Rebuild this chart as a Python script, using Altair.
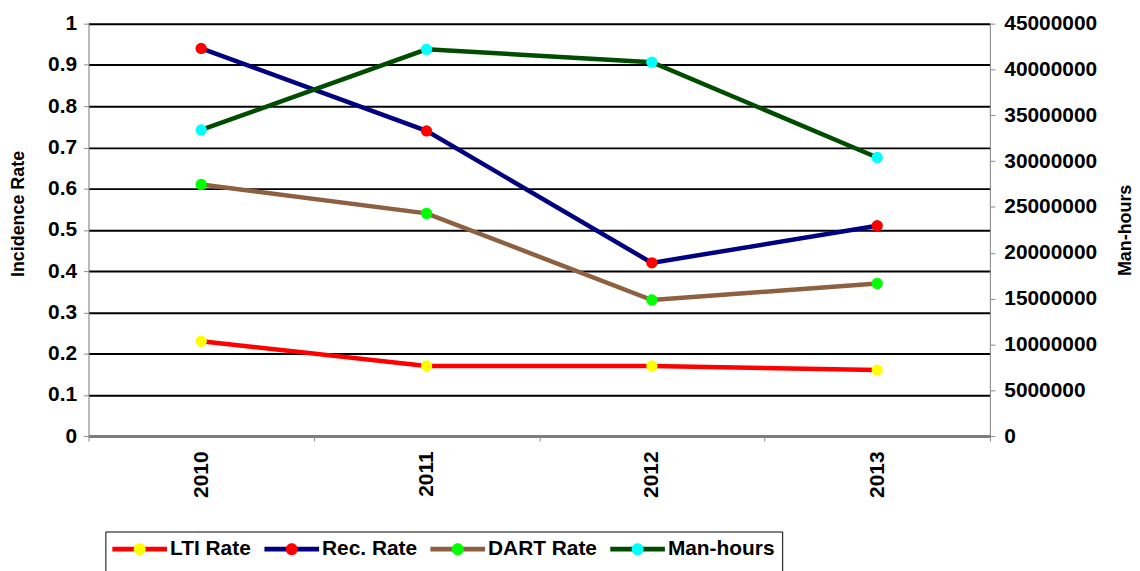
import altair as alt
import pandas as pd

years = ["2010", "2011", "2012", "2013"]
series_names = ["LTI Rate", "Rec. Rate", "DART Rate", "Man-hours"]
lti_rate = [0.23, 0.17, 0.17, 0.16]
rec_rate = [0.94, 0.74, 0.42, 0.51]
dart_rate = [0.61, 0.54, 0.33, 0.37]
man_hours = [33400000, 42200000, 40800000, 30400000]
rate_ticks = [0, 0.1, 0.2, 0.3, 0.4, 0.5, 0.6, 0.7, 0.8, 0.9, 1]
hours_ticks = [0, 5000000, 10000000, 15000000, 20000000, 25000000,
               30000000, 35000000, 40000000, 45000000]
line_colors = ["#FF0000", "#000080", "#8C6040", "#004D00"]
marker_colors = ["#FFFF00", "#FF0000", "#00FF00", "#00FFFF"]

rows = []
for name, vals in zip(series_names[:3], [lti_rate, rec_rate, dart_rate]):
    for yr, v in zip(years, vals):
        rows.append({"year": yr, "series": name, "marker": name, "value": v})
rates = pd.DataFrame(rows)
hours = pd.DataFrame({"year": years, "series": "Man-hours",
                      "marker": "Man-hours", "value": man_hours})

FONT = "Liberation Sans"
# legend glyphs: a line segment, and a dot whose bounds span the same segment
LINE_PATH = "M-1.4,0H5.933"
DOT_PATH = "M-1.4,0M5.933,0M1.467,0A0.8,0.8 0 1,0 3.067,0A0.8,0.8 0 1,0 1.467,0Z"

x_enc = alt.X(
    "year:N", sort=years,
    scale=alt.Scale(type="band", paddingInner=0, paddingOuter=0),
    axis=alt.Axis(title=None, labelAngle=270, tickBand="extent",
                  labelPadding=10, labelFontSize=21, labelFont=FONT,
                  labelFontWeight="bold", labelColor="black"),
)

color_enc = alt.Color(
    "series:N", sort=series_names, title=" ",
    scale=alt.Scale(range=line_colors),
    legend=alt.Legend(orient="none", legendX=17, legendY=511,
                      direction="horizontal", symbolType=LINE_PATH,
                      symbolSize=225, symbolStrokeWidth=5,
                      symbolFillColor="transparent",
                      labelFont=FONT, labelFontSize=21, labelFontWeight="bold",
                      labelColor="black", labelOffset=37, columnPadding=3,
                      titleOrient="bottom", titleFontSize=20, titlePadding=10,
                      padding=7, strokeColor="black", fillColor="white",
                      zindex=1),
)
fill_enc = alt.Fill(
    "marker:N", sort=series_names, title=None,
    scale=alt.Scale(range=marker_colors),
    legend=alt.Legend(orient="none", legendX=17, legendY=511,
                      direction="horizontal", symbolType=DOT_PATH,
                      symbolSize=225, symbolStrokeWidth=5,
                      symbolStrokeColor="transparent", symbolOpacity=1,
                      labelFont=FONT, labelFontSize=21, labelFontWeight="bold",
                      labelColor="transparent", labelOffset=37, columnPadding=3,
                      padding=7, zindex=2),
)

left_axis = alt.Axis(
    values=rate_ticks, format="~g", orient="left", grid=True,
    gridColor="black", gridWidth=2, title="Incidence Rate",
    titleFont=FONT, titleFontSize=18, titleFontWeight="bold",
    titleColor="black", titlePadding=20, titleY=191,
    labelFont=FONT, labelFontSize=21, labelFontWeight="bold",
    labelColor="black", labelPadding=7,
)
right_axis = alt.Axis(
    values=hours_ticks, format="d", orient="right", grid=False,
    title="Man-hours", titleAngle=270, titleBaseline="top",
    titleFont=FONT, titleFontSize=18, titleFontWeight="bold",
    titleColor="black", titlePadding=20,
    labelFont=FONT, labelFontSize=21, labelFontWeight="bold",
    labelColor="black", labelPadding=9,
)

rate_scale = alt.Scale(domain=[0, 1], nice=False, zero=True)
hours_scale = alt.Scale(domain=[0, 45000000], nice=False, zero=True)

rate_lines = alt.Chart(rates).mark_line(strokeWidth=4.5).encode(
    x=x_enc,
    y=alt.Y("value:Q", scale=rate_scale, axis=left_axis),
    color=color_enc,
)
hours_line = alt.Chart(hours).mark_line(strokeWidth=4.5).encode(
    x=x_enc,
    y=alt.Y("value:Q", scale=hours_scale, axis=right_axis),
    color=color_enc,
)
rate_points = alt.Chart(rates).mark_circle(size=130, opacity=1).encode(
    x=x_enc,
    y=alt.Y("value:Q", scale=rate_scale, axis=None),
    fill=fill_enc,
)
hours_points = alt.Chart(hours).mark_circle(size=130, opacity=1).encode(
    x=x_enc,
    y=alt.Y("value:Q", scale=hours_scale, axis=None),
    fill=fill_enc,
)

chart = alt.layer(rate_lines, hours_line, rate_points, hours_points).resolve_scale(
    y="independent"
).properties(
    width=907, height=415,
    autosize=alt.AutoSizeParams(type="none"),
    padding={"left": 81, "top": 14, "right": 143, "bottom": 134},
).configure_view(
    strokeWidth=0
).configure_axis(
    domainColor="black", domainWidth=2, tickColor="black", tickWidth=2,
    tickSize=8,
).configure(background="white")

chart.save("out.html", embed_options={"renderer": "svg", "actions": False})
